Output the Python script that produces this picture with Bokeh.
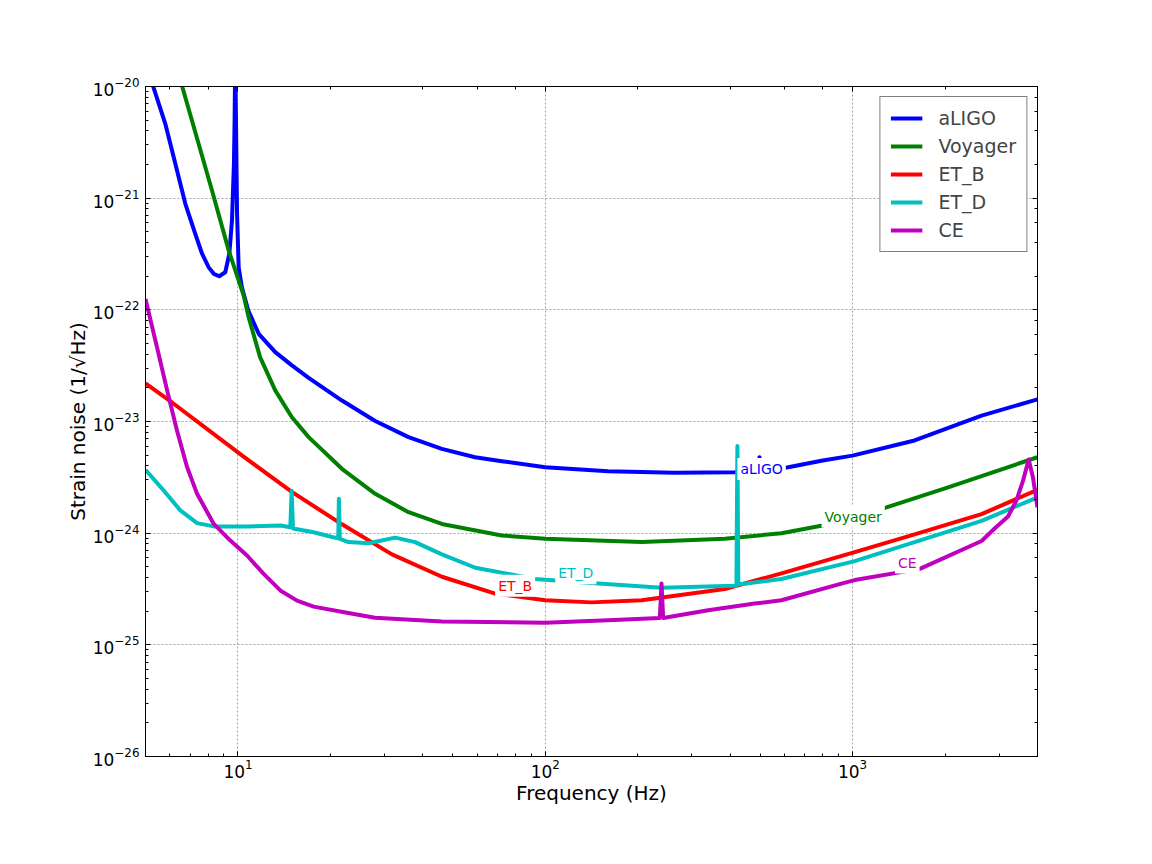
from bokeh.plotting import figure
from bokeh.models import Label, LogAxis, CustomJSTickFormatter
from bokeh.embed import file_html
from bokeh.resources import INLINE

# ---------------- data ----------------
aligo_f = [5.2, 5.8, 6.25, 6.74, 7.26, 7.64, 8.03, 8.34, 8.69, 9.09, 9.37, 9.56, 9.70,
           9.75, 9.79, 9.85, 9.93, 10.05, 10.3, 10.8, 11.68, 13.22, 14.98, 16.98, 21.79,
           27.96, 35.9, 46.07, 59.1, 72.2, 100, 160, 264, 414, 494, 498, 502, 618, 800,
           1000, 1592, 2631, 4000]
aligo_h = [1.17e-20, 4.63e-21, 2.04e-21, 8.91e-22, 4.79e-22, 3.18e-22, 2.40e-22, 2.10e-22,
           2.00e-22, 2.17e-22, 3.18e-22, 6.31e-22, 2.04e-21,
           5.0e-21, 1.58e-20, 5.0e-21, 7.24e-22, 2.40e-22, 1.58e-22, 9.86e-23, 6.10e-23,
           4.18e-23, 3.18e-23, 2.46e-23, 1.54e-23,
           1.01e-23, 7.24e-24, 5.69e-24, 4.79e-24, 4.41e-24, 3.89e-24, 3.59e-24, 3.47e-24,
           3.51e-24, 3.63e-24, 4.79e-24, 3.63e-24, 3.89e-24, 4.47e-24,
           4.95e-24, 6.76e-24, 1.13e-23, 1.58e-23]

voyager_f = [6.55, 8.23, 9.33, 10.43, 10.83, 11.8, 13.22, 14.98, 16.98, 21.79, 27.96,
             35.9, 46.07, 72.2, 100, 206, 384, 587, 799, 1290, 2047, 4000]
voyager_h = [1.05e-20, 1.17e-21, 3.39e-22, 1.35e-22, 8.59e-23, 3.77e-23, 1.90e-23,
             1.09e-23, 7.24e-24, 3.77e-24, 2.25e-24,
             1.54e-24, 1.21e-24, 9.53e-25, 8.91e-25, 8.32e-25, 8.91e-25, 1.00e-24,
             1.17e-24, 1.70e-24, 2.57e-24, 4.79e-24]

etb_f = [5.0, 6.1, 10.3, 14.97, 21.8, 31.7, 46.1, 68.7, 100, 141.6, 206, 384, 587,
         1017, 1592, 2631, 4000]
etb_h = [2.19e-23, 1.48e-23, 4.97e-24, 2.34e-24, 1.20e-24, 6.46e-25, 4.07e-25, 2.88e-25,
         2.51e-25, 2.40e-25, 2.51e-25, 3.16e-25, 4.37e-25,
         6.76e-25, 9.77e-25, 1.48e-24, 2.45e-24]

etd_f = [5.0, 5.73, 6.49, 7.36, 8.34, 10.7, 13.73, 14.8, 14.95, 15.1, 17.63, 20.4, 21.2,
         21.3, 21.45, 22.9, 26.6, 32.5, 37.7, 46.1, 59.2, 92.5, 149, 239, 414, 419, 422,
         425, 587, 1017, 1592, 2631, 4000]
etd_h = [3.70e-24, 2.41e-24, 1.60e-24, 1.23e-24, 1.15e-24, 1.15e-24, 1.17e-24, 1.13e-24,
         2.40e-24, 1.10e-24, 1.02e-24, 9.2e-25, 9.0e-25,
         2.03e-24, 8.9e-25, 8.32e-25, 8.13e-25, 9.12e-25, 8.32e-25, 6.46e-25, 4.90e-25,
         3.89e-25, 3.55e-25, 3.24e-25, 3.39e-25, 3.39e-25, 6.03e-24,
         3.47e-25, 3.89e-25, 5.62e-25, 8.32e-25, 1.29e-24, 2.09e-24]

ce_f = [5.0, 5.45, 5.88, 6.33, 6.83, 7.36, 8.34, 9.44, 10.7, 12.12, 13.73, 15.56, 17.63,
        22.62, 27.9, 46.1, 100, 160, 236, 239, 242, 339, 481, 587, 927, 1017, 1656, 2631,
        2901, 3207, 3412, 3590, 3743, 3866, 4000]
ce_h = [1.25e-22, 4.62e-23, 1.90e-23, 8.32e-24, 3.90e-24, 2.25e-24, 1.21e-24, 8.59e-25,
        6.31e-25, 4.32e-25, 3.07e-25, 2.49e-25, 2.20e-25,
        1.94e-25, 1.75e-25, 1.62e-25, 1.58e-25, 1.66e-25, 1.74e-25, 3.55e-25, 1.74e-25,
        2.04e-25, 2.34e-25, 2.51e-25, 3.55e-25, 3.80e-25, 4.79e-25, 8.51e-25,
        1.10e-24, 1.41e-24, 1.95e-24, 2.95e-24, 4.57e-24, 3.16e-24, 1.70e-24]

series_names = ["aLIGO", "Voyager", "ET_B", "ET_D", "CE"]
series_colors = ["#0000ff", "#008000", "#ff0000", "#00bfbf", "#bf00bf"]

# inline curve labels: (frequency, strain)
label_f = [506, 1005, 79.8, 125.7, 1507]
label_h = [3.75e-24, 1.41e-24, 3.39e-25, 4.37e-25, 5.46e-25]

FONT = "DejaVu Sans"

p = figure(width=1130, height=840, x_axis_type="log", y_axis_type="log",
           x_range=(5, 4000), y_range=(1e-26, 1e-20),
           output_backend="svg", toolbar_location=None, title=None,
           min_border_left=145, min_border_right=93,
           min_border_top=86, min_border_bottom=84)

p.background_fill_color = "white"
p.border_fill_color = "white"
p.outline_line_color = "black"
p.outline_line_width = 1

xs = [aligo_f, voyager_f, etb_f, etd_f, ce_f]
ys = [aligo_h, voyager_h, etb_h, etd_h, ce_h]
for f, h, name, col in zip(xs, ys, series_names, series_colors):
    p.line(f, h, line_color=col, line_width=4, legend_label=name,
           line_join="round", line_cap="butt")

for name, col, lf, lh in zip(series_names, series_colors, label_f, label_h):
    p.add_layout(Label(x=lf, y=lh, text=name, text_color=col,
                       text_font=FONT, text_font_size="14px",
                       text_align="center", text_baseline="middle",
                       background_fill_color="white", padding=3))

# axes styling
for ax in (p.xaxis[0], p.yaxis[0]):
    ax.major_tick_in = 5
    ax.major_tick_out = 0
    ax.minor_tick_in = 3
    ax.minor_tick_out = 0
    ax.axis_line_color = "black"
    ax.major_label_text_font = FONT
    ax.major_label_text_font_size = "17px"
    ax.major_label_text_color = "black"
    ax.axis_label_text_font = FONT
    ax.axis_label_text_font_size = "20px"
    ax.axis_label_text_font_style = "normal"
    ax.axis_label_text_color = "black"

p.xaxis.axis_label = "Frequency (Hz)"
p.yaxis.axis_label = "Strain noise (1/\u221aHz)"
p.xaxis.major_label_standoff = 2
p.yaxis.major_label_standoff = 6
p.xaxis.axis_label_standoff = 0
p.yaxis.axis_label_standoff = 0

for loc in ("above", "right"):
    extra = LogAxis(formatter=CustomJSTickFormatter(code="return ''"),
                    major_tick_in=5, major_tick_out=0,
                    minor_tick_in=3, minor_tick_out=0,
                    major_label_text_font_size="1px",
                    major_label_standoff=0, axis_line_color="black")
    p.add_layout(extra, loc)

p.grid.grid_line_color = "#a0a0a0"
p.grid.grid_line_dash = "2 2"
p.grid.grid_line_width = 1

lg = p.legend[0]
lg.location = "top_right"
lg.border_line_color = "black"
lg.border_line_width = 1
lg.background_fill_color = "white"
lg.background_fill_alpha = 1
lg.label_text_font = FONT
lg.label_text_font_size = "19px"
lg.glyph_width = 32
lg.glyph_height = 20
lg.label_height = 20
lg.label_standoff = 16
lg.spacing = 6
lg.padding = 10
lg.margin = 10

open("out.html", "w").write(file_html(p, INLINE))
